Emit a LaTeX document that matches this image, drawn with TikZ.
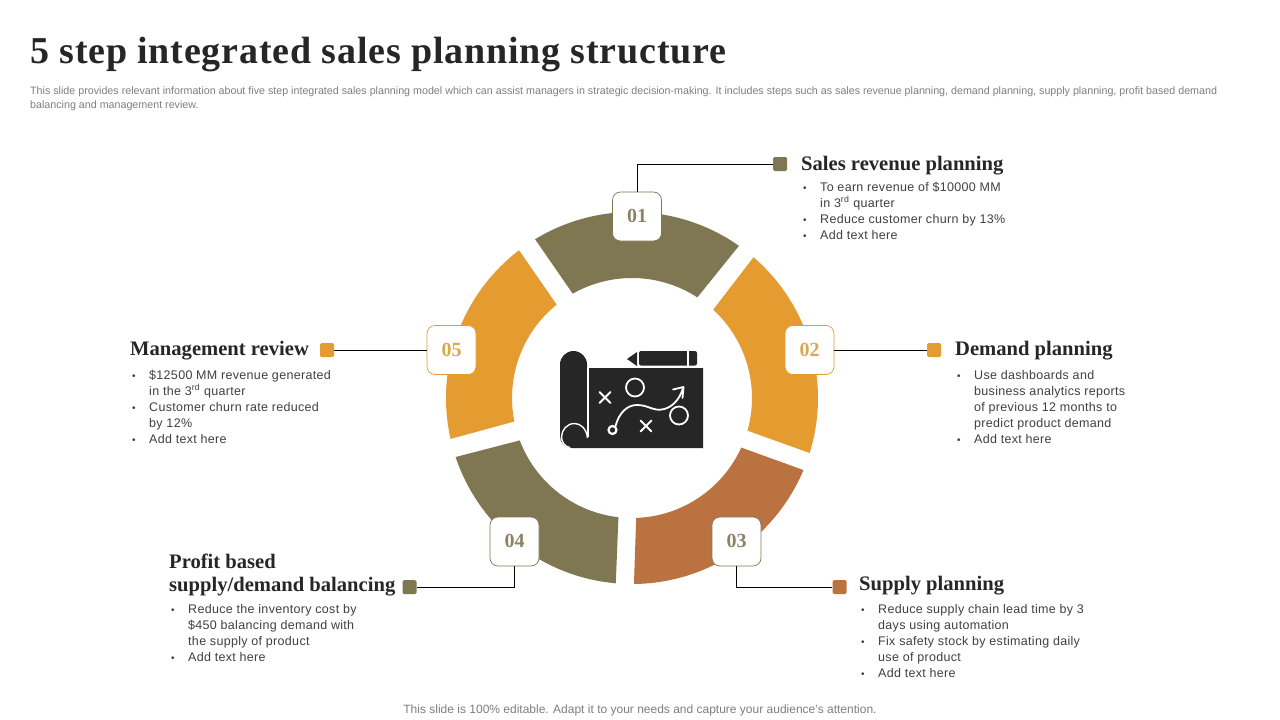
\documentclass[tikz,border=0pt]{standalone}
\usepackage{fontspec}
\setmainfont{Liberation Sans}
\newfontfamily\bodyfont[LetterSpace=2.5]{Liberation Sans}
\newfontfamily\headfont{Liberation Serif}
\newfontfamily\titlefont[LetterSpace=2.1]{Liberation Serif}
\definecolor{olive}{HTML}{7F7752}
\definecolor{amber}{HTML}{E49B2F}
\definecolor{copper}{HTML}{BA7240}
\definecolor{inkc}{HTML}{262626}
\definecolor{bodyc}{HTML}{404040}
\definecolor{grayc}{HTML}{7F7F7F}
\definecolor{numolive}{HTML}{8A8366}
\definecolor{numamber}{HTML}{D9A94F}
\newcommand{\dotmark}{\makebox[19pt][l]{\hspace{2pt}{\fontsize{10}{10}\selectfont•}}}
\newcommand{\bitem}[1]{\dotmark#1\\}
\newcommand{\citem}[1]{\makebox[19pt][l]{}#1\\}
\newcommand{\litem}[1]{\dotmark#1}
\tikzset{
 seg/.style={fill=#1,draw=none},
 badge/.style={draw=#1,fill=white,line width=0.7pt,rounded corners=8pt,minimum size=49pt,inner sep=0pt,font=\headfont\bfseries\fontsize{20}{20}\selectfont},
 marker/.style={fill=#1,rounded corners=1.5pt,minimum size=14pt,inner sep=0pt},
 conn/.style={draw=black,line width=0.8pt},
 head/.style={anchor=base west,inner sep=0pt,align=left,text=inkc,font=\headfont\bfseries\fontsize{20.6}{23}\selectfont},
 bodytext/.style={anchor=north west,inner sep=0pt,align=left,text=bodyc,font=\bodyfont\fontsize{12.5}{16}\selectfont},
 iconline/.style={draw=white,line width=1.8pt,line cap=round,line join=round},
}
\newcommand{\ringseg}[5]{% colour, a1 outer,a2 outer, a1 inner, a2 inner
 \fill[seg=#1] (#2:186) arc[start angle=#2,end angle=#3,radius=186] -- (#5:120) arc[start angle=#5,end angle=#4,radius=120] -- cycle;}
\begin{document}
\begin{tikzpicture}[x=1pt,y=-1pt]
\path[use as bounding box,fill=white] (0,0) rectangle (1280,720);
\node[anchor=base west,inner sep=0pt,text=inkc,font=\titlefont\bfseries\fontsize{38}{38}\selectfont] (title) at (30,63) {5 step integrated sales planning structure};
\node[anchor=north west,inner sep=0pt,align=left,text=grayc,font=\fontsize{10.7}{13.5}\selectfont] (desc) at (30,87) {This slide provides relevant information about five step integrated sales planning model which can assist managers in strategic decision-making. It includes steps such as sales revenue planning, demand planning, supply planning, profit based demand\\balancing and management review.};
\begin{scope}[shift={(632,398)},y=1pt]
\ringseg{olive}{121.4}{54.9}{119.6}{57}
\ringseg{amber}{49.2}{-17.2}{47.4}{-15.8}
\ringseg{copper}{-22.8}{-89.4}{-24.4}{-88}
\ringseg{olive}{-95}{-161.5}{-96.5}{-159.3}
\ringseg{amber}{-167.3}{-232.6}{-168.7}{-231.1}
\end{scope}
\node[badge=olive,text=numolive] (b1) at (637,216.5) {\raisebox{1pt}{01}};
\node[badge=amber,text=numamber] (b2) at (809.5,350) {02};
\node[badge=olive,text=numolive] (b3) at (736.5,541.5) {\raisebox{1pt}{03}};
\node[badge=olive,text=numolive] (b4) at (514.5,541.5) {\raisebox{1pt}{04}};
\node[badge=amber,text=numamber] (b5) at (451.5,350) {05};
\node[marker=olive] (m1) at (780,164) {};
\node[marker=amber] (m2) at (934,350) {};
\node[marker=copper] (m3) at (839.5,587) {};
\node[marker=olive] (m4) at (409.5,587) {};
\node[marker=amber] (m5) at (327,350) {};
\draw[conn] (b1.north) |- (m1.west);
\draw[conn] (b2.east) -- (m2.west);
\draw[conn] (b3.south) |- (m3.west);
\draw[conn] (b4.south) |- (m4.east);
\draw[conn] (b5.west) -- (m5.east);
% headings
\node[head] (h1) at (801,170) {Sales revenue planning};
\node[head] (h2) at (955,355) {Demand planning};
\node[head] (h3) at (859,590) {Supply planning};
\node[head,anchor=north west] (h4) at (169,554) {Profit based\\supply/demand balancing};
\node[head] (h5) at (130,355) {Management review};
% bullets
\node[bodytext] (t1) at (801,181) {\rule{0pt}{10pt}\bitem{To earn revenue  of \$10000 MM}\citem{in 3\textsuperscript{rd} quarter}\bitem{Reduce customer churn by 13\%}\litem{Add text here}};
\node[bodytext] (t2) at (955,369) {\rule{0pt}{10pt}\bitem{Use dashboards and}\citem{business analytics reports}\citem{of previous 12 months to}\citem{predict product demand}\litem{Add text here}};
\node[bodytext] (t3) at (859,603) {\rule{0pt}{10pt}\bitem{Reduce supply chain lead time by 3}\citem{days using automation}\bitem{Fix safety stock by estimating daily}\citem{use of product}\litem{Add text here}};
\node[bodytext] (t4) at (169,603) {\rule{0pt}{10pt}\bitem{Reduce the inventory cost by}\citem{\$450 balancing demand with}\citem{the supply of product}\litem{Add text here}};
\node[bodytext] (t5) at (130,369) {\rule{0pt}{10pt}\bitem{\$12500 MM revenue generated}\citem{in the 3\textsuperscript{rd} quarter}\bitem{Customer churn rate reduced}\citem{by 12\%}\litem{Add text here}};
\node[anchor=base,inner sep=0pt,text=grayc,font=\fontsize{12}{14}\selectfont] (foot) at (640,713) {This slide is 100\% editable. Adapt it to your needs and capture your audience's attention.};
% icon
\fill[inkc] (560,364.5) arc[start angle=180,end angle=360,radius=13.5] -- (587,368) -- (703,368) -- (703,448) -- (572,448) .. controls (565,448) and (560,443) .. (560,436) -- cycle;
\draw[white,line width=2.4pt] (588.2,367) -- (588.2,437);
\draw[white,line width=1.4pt] (587.5,438) .. controls (586.5,429) and (581,423.5) .. (574.5,423.5) .. controls (567,423.5) and (561.5,430) .. (561.5,437) .. controls (561.5,442) and (565,447) .. (570,447.5);
% pen
\fill[inkc] (627,359) -- (637,352) -- (637,366) -- cycle;
\fill[inkc,rounded corners=2pt] (639,351) -- (697,351) -- (697,365.5) -- (639,365.5) -- cycle;
\draw[white,line width=1.2pt] (688,350.5) -- (688,366);
% marks
\draw[iconline] (599.5,392) -- (610.5,403) (610.5,392) -- (599.5,403);
\draw[iconline] (640.5,420.5) -- (651.5,431.5) (651.5,420.5) -- (640.5,431.5);
\draw[iconline] (635,387.5) circle[radius=9];
\draw[iconline] (679,415.5) circle[radius=9];
\draw[iconline,line width=2.2pt] (612.5,430) circle[radius=4];
\draw[iconline] (615.5,426) .. controls (619,413) and (627,405) .. (637,405) .. controls (648,405) and (653,411) .. (662,409.5) .. controls (672,408) and (680,399) .. (683,388);
\draw[iconline] (673,389.5) -- (683.5,387) -- (682.5,398);
\end{tikzpicture}
\end{document}
